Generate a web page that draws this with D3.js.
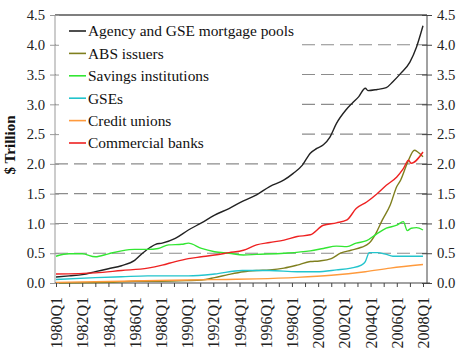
<!DOCTYPE html>
<html>
<head>
<meta charset="utf-8">
<style>
  body { margin: 0; background: #fff; }
  svg { display: block; }
  svg text { font-family: "Liberation Serif", "Times New Roman", serif; }
  .axis path { display: none; }
  .axis text { fill: #222; }
</style>
</head>
<body>
<div id="chart"></div>
<script src="https://cdnjs.cloudflare.com/ajax/libs/d3/7.8.5/d3.min.js"></script>
<script>
// series: [year, $ trillion]
var agencyPts = [[1980,0.10],[1981,0.12],[1982,0.14],[1983,0.19],[1984,0.24],[1985,0.29],[1986,0.38],[1986.6,0.50],[1987.2,0.60],[1987.6,0.65],[1988.1,0.67],[1989.1,0.75],[1990.1,0.89],[1991.1,1.01],[1992.1,1.14],[1993.2,1.25],[1994.3,1.38],[1995.3,1.48],[1996.3,1.62],[1997.4,1.73],[1998.1,1.84],[1998.8,1.98],[1999.4,2.18],[1999.9,2.26],[2000.4,2.32],[2000.9,2.45],[2001.4,2.68],[2002.1,2.90],[2002.6,3.02],[2003.1,3.13],[2003.6,3.27],[2003.8,3.23],[2004.5,3.25],[2005.2,3.28],[2005.7,3.38],[2006.3,3.52],[2007.0,3.71],[2007.5,3.96],[2008,4.32]];
var absPts = [[1980,0.00],[1984,0.01],[1986,0.03],[1988,0.03],[1990,0.04],[1991.1,0.05],[1992.1,0.09],[1993.2,0.145],[1994.3,0.19],[1995.3,0.21],[1996.3,0.22],[1997.4,0.25],[1998.4,0.30],[1999.4,0.36],[2000.1,0.37],[2001.0,0.41],[2001.7,0.50],[2002.5,0.55],[2003.3,0.60],[2003.9,0.67],[2004.4,0.83],[2004.9,1.06],[2005.5,1.31],[2006.0,1.62],[2006.3,1.73],[2006.8,2.01],[2007.35,2.23],[2007.6,2.20],[2008,2.12]];
var savingsPts = [[1980,0.45],[1981,0.49],[1982,0.49],[1983,0.44],[1984,0.49],[1985,0.54],[1986,0.565],[1987,0.565],[1987.8,0.58],[1988.6,0.64],[1989.6,0.65],[1990.1,0.67],[1991.1,0.58],[1992.1,0.525],[1993.2,0.50],[1994.3,0.47],[1995.3,0.48],[1997.4,0.50],[1999.4,0.54],[2000.4,0.58],[2001.4,0.62],[2002.2,0.61],[2002.9,0.67],[2003.7,0.71],[2004.5,0.83],[2005.2,0.92],[2006.0,0.97],[2006.5,1.03],[2006.8,0.88],[2007.1,0.92],[2007.5,0.93],[2008,0.89]];
var gsePts = [[1980,0.06],[1983,0.09],[1985,0.105],[1987,0.12],[1990.1,0.12],[1992.1,0.15],[1994.2,0.21],[1996.3,0.21],[1998.4,0.19],[1999.9,0.19],[2001.4,0.22],[2002.5,0.25],[2003.3,0.30],[2003.6,0.36],[2003.9,0.51],[2004.5,0.51],[2005.2,0.48],[2005.7,0.45],[2008,0.45]];
var creditPts = [[1980,0.01],[1985,0.03],[1990,0.05],[1993,0.06],[1995.3,0.07],[1998.4,0.095],[2001,0.13],[2003.6,0.19],[2005.5,0.25],[2008,0.31]];
var bankPts = [[1980,0.15],[1983,0.17],[1985,0.21],[1987,0.25],[1988.1,0.30],[1989.1,0.36],[1990.1,0.41],[1991.1,0.44],[1992.1,0.47],[1993.2,0.51],[1994.3,0.55],[1995.3,0.64],[1996.3,0.68],[1997.4,0.72],[1998.4,0.78],[1999.4,0.81],[2000.4,0.97],[2001.4,1.01],[2002.2,1.06],[2002.9,1.25],[2003.7,1.36],[2004.5,1.50],[2005.2,1.64],[2006.0,1.78],[2006.5,1.92],[2006.9,2.06],[2007.1,2.01],[2008,2.20]];

var seriesNames = ["Agency and GSE mortgage pools", "ABS issuers", "Savings institutions", "GSEs", "Credit unions", "Commercial banks"];
var seriesColors = ["#222222", "#7f7f1e", "#33e633", "#22c4cc", "#ff9a3c", "#ee2222"];
var seriesData = [agencyPts, absPts, savingsPts, gsePts, creditPts, bankPts];

var yTicks = [0, 0.5, 1, 1.5, 2, 2.5, 3, 3.5, 4, 4.5];
var xTicks = d3.range(1980, 2009);
var yTitle = "$ Trillion";

var W = 473, H = 356;
var box = {left: 55, right: 427, top: 15, bottom: 283};
var serif = "'Liberation Serif', 'Times New Roman', serif";

var x = d3.scaleLinear().domain([1980, 2008]).range([56, 423]);
var y = d3.scaleLinear().domain([0, 4.5]).range([box.bottom, box.top]);

var svg = d3.select("#chart").append("svg").attr("width", W).attr("height", H);

// dashed grid
svg.append("g").selectAll("line")
  .data(yTicks.filter(function(d) { return d > 0 && d < 4.5; }))
  .enter().append("line")
  .attr("x1", box.left).attr("x2", box.right)
  .attr("y1", function(d) { return y(d); }).attr("y2", function(d) { return y(d); })
  .attr("stroke", "#8c8c8c").attr("stroke-width", 1.1)
  .attr("stroke-dasharray", "13,6");

// legend background covers the grid
svg.append("rect").attr("x", box.left + 1).attr("y", box.top + 1)
  .attr("width", 245).attr("height", 140).attr("fill", "#fff");

// frame
svg.append("line").attr("x1", box.left).attr("x2", box.right).attr("y1", box.top).attr("y2", box.top)
  .attr("stroke", "#000").attr("stroke-width", 1.2);
svg.append("line").attr("x1", box.left).attr("x2", box.left).attr("y1", box.top).attr("y2", box.bottom)
  .attr("stroke", "#999");
svg.append("line").attr("x1", box.right).attr("x2", box.right).attr("y1", box.top).attr("y2", box.bottom)
  .attr("stroke", "#444");
svg.append("line").attr("x1", box.left).attr("x2", box.right + 3).attr("y1", box.bottom).attr("y2", box.bottom)
  .attr("stroke", "#444").attr("stroke-width", 1.2);

// lines
var line = d3.line()
  .x(function(d) { return x(d[0]); })
  .y(function(d) { return y(d[1]); })
  .curve(d3.curveMonotoneX);

svg.append("g").selectAll("path")
  .data(seriesData)
  .enter().append("path")
  .attr("d", line)
  .attr("fill", "none")
  .attr("stroke", function(d, i) { return seriesColors[i]; })
  .attr("stroke-width", 1.4);

// axes
var yLeft = svg.append("g").attr("class", "axis")
  .attr("transform", "translate(" + box.left + ",0)")
  .call(d3.axisLeft(y).tickValues(yTicks).tickSize(5).tickPadding(5).tickFormat(d3.format(".1f")))
  .attr("font-family", serif).attr("font-size", 14.7);
yLeft.selectAll("line").attr("x1", 4).attr("stroke", "#999");

var yRight = svg.append("g").attr("class", "axis")
  .attr("transform", "translate(" + box.right + ",0)")
  .call(d3.axisRight(y).tickValues(yTicks).tickSize(5).tickPadding(5).tickFormat(d3.format(".1f")))
  .attr("font-family", serif).attr("font-size", 14.7);
yRight.selectAll("line").attr("x1", -5).attr("stroke", "#444");

var xAx = svg.append("g").attr("class", "axis")
  .attr("transform", "translate(0," + box.bottom + ")")
  .call(d3.axisBottom(x).tickValues(xTicks).tickSize(4)
    .tickFormat(function(d) { return d % 2 === 0 ? d + "Q1" : ""; }))
  .attr("font-family", serif).attr("font-size", 16);
xAx.selectAll("line").attr("stroke", "#444");
xAx.selectAll("text")
  .attr("text-anchor", "end")
  .attr("transform", "rotate(-90)")
  .attr("x", -14).attr("y", 0).attr("dy", "0.35em");

// y title
svg.append("text")
  .attr("transform", "translate(10,145) rotate(-90)")
  .attr("text-anchor", "middle").attr("dy", "0.35em")
  .attr("font-size", "15px").attr("font-weight", "bold").attr("fill", "#111")
  .text(yTitle);

// legend
var leg = svg.append("g").selectAll("g")
  .data(seriesNames)
  .enter().append("g")
  .attr("transform", function(d, i) { return "translate(69," + (31 + i * 22.4) + ")"; });
leg.append("line").attr("x1", 0).attr("x2", 17)
  .attr("stroke", function(d, i) { return seriesColors[i]; }).attr("stroke-width", 1.6);
leg.append("text").attr("x", 19).attr("dy", "0.35em")
  .attr("font-size", "15.4px").attr("fill", "#111")
  .text(function(d) { return d; });
</script>
</body>
</html>
